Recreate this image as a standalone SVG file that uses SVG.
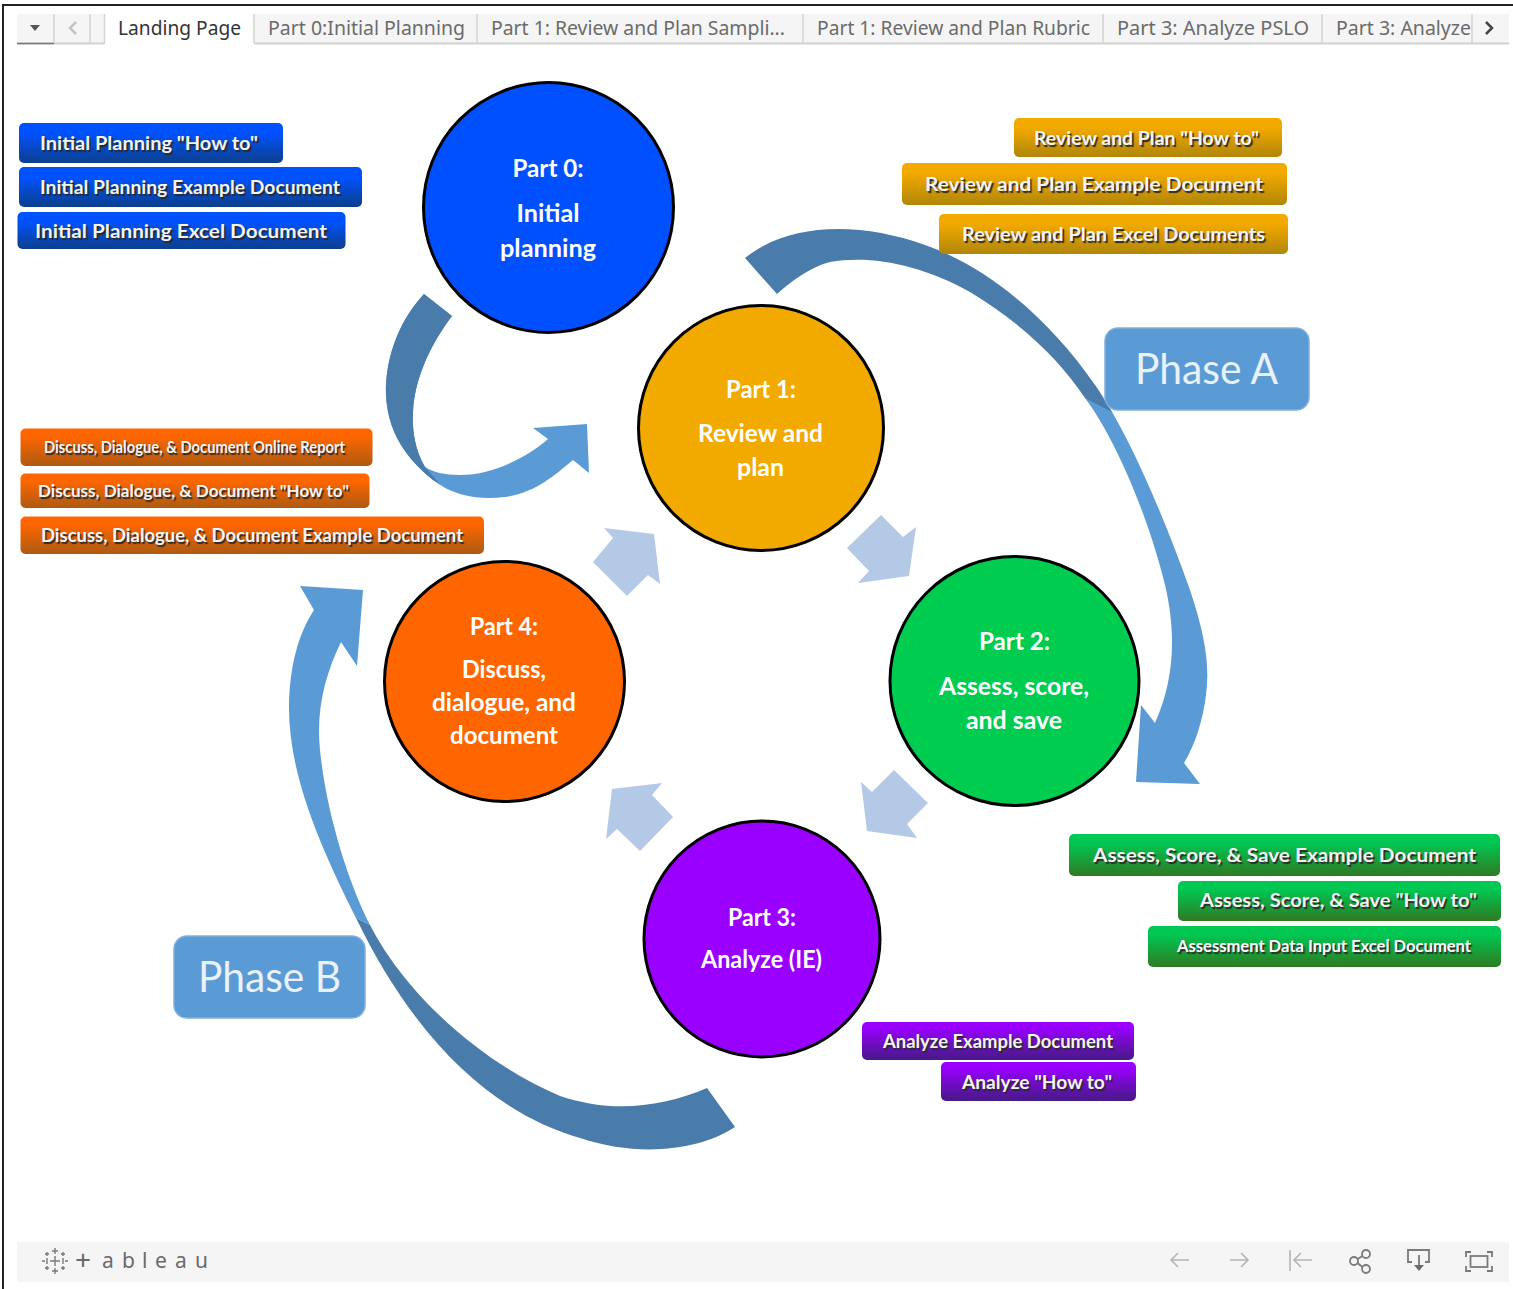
<svg xmlns="http://www.w3.org/2000/svg" width="1513" height="1289" viewBox="0 0 1513 1289">
<defs>
<style>
.tab{font-family:"Noto Sans","Liberation Sans",sans-serif;font-size:20px;fill:#6b6b6b}
.sep{stroke:#d4d4d4;stroke-width:1.5}
.btn{font-family:Lato,"Liberation Sans",sans-serif;font-weight:700;font-size:19px;fill:#f4f4f4;text-shadow:1.5px 1.5px 1px #2a2a2a}
.circ{stroke:#000;stroke-width:3}
.ct{font-family:Lato,"Liberation Sans",sans-serif;font-weight:700;font-size:24.5px;fill:#fff;text-anchor:middle}
.phase{fill:#5b9bd5;stroke:#7fb0dd;stroke-width:1.5}
.pt{font-family:Lato,"Liberation Sans",sans-serif;font-size:42px;fill:#eaf1f8;text-anchor:middle}
.light{fill:#5b9bd5}
.dark{fill:#4a7cab}
.small{fill:#b4c9e6}
.ico{fill:none;stroke:#b5b5b5;stroke-width:1.6}
.ico2{fill:none;stroke:#7a7a7a;stroke-width:1.8}
</style>
<linearGradient id="gBlue" x1="0" y1="0" x2="0" y2="1"><stop offset="0.25" stop-color="#0052ff"/><stop offset="1" stop-color="#0c3f8c"/></linearGradient>
<linearGradient id="gOrange" x1="0" y1="0" x2="0" y2="1"><stop offset="0.2" stop-color="#ff6600"/><stop offset="1" stop-color="#ad5a12"/></linearGradient>
<linearGradient id="gYellow" x1="0" y1="0" x2="0" y2="1"><stop offset="0.25" stop-color="#f2a900"/><stop offset="1" stop-color="#b08608"/></linearGradient>
<linearGradient id="gGreen" x1="0" y1="0" x2="0" y2="1"><stop offset="0.2" stop-color="#00c853"/><stop offset="1" stop-color="#2f7a22"/></linearGradient>
<linearGradient id="gPurple" x1="0" y1="0" x2="0" y2="1"><stop offset="0.15" stop-color="#9900ff"/><stop offset="1" stop-color="#451a85"/></linearGradient>
</defs>
<rect width="1513" height="1289" fill="#fff"/>
<g id="frame"><path d="M3,1289V5H1513" fill="none" stroke="#222" stroke-width="2"/></g>

<g id="tabstrip">
<rect x="17" y="14" width="1492" height="29" fill="#f5f5f5"/>
<rect x="105" y="14" width="149" height="31" fill="#fff"/>
<path d="M17,43.500H105M254,43.500H1509" stroke="#d2d2d2" stroke-width="2" fill="none"/>
<path d="M54,14V43M90,14V43M104.500,14V43M254,14V43M477,14V43M803,14V43M1103,14V43M1322,14V43M1472,14V43" class="sep"/>
<path d="M17,43.500H54" stroke="#777" stroke-width="1.500"/>
<path d="M30,25H40L35,31Z" fill="#555"/>
<path d="M76,22L70,28L76,34" fill="none" stroke="#c4c4c4" stroke-width="2.500"/>
<path d="M1486,22L1492,28L1486,34" fill="none" stroke="#444" stroke-width="2.500"/>
<text class="tab" x="118" y="35" textLength="123" lengthAdjust="spacingAndGlyphs" style="fill:#333">Landing Page</text>
<text class="tab" x="268" y="35" textLength="197" lengthAdjust="spacingAndGlyphs">Part 0:Initial Planning</text>
<text class="tab" x="491" y="35" textLength="294" lengthAdjust="spacingAndGlyphs">Part 1: Review and Plan Sampli...</text>
<text class="tab" x="817" y="35" textLength="273" lengthAdjust="spacingAndGlyphs">Part 1: Review and Plan Rubric</text>
<text class="tab" x="1117" y="35" textLength="192" lengthAdjust="spacingAndGlyphs">Part 3: Analyze PSLO</text>
<text class="tab" x="1336" y="35" textLength="135" lengthAdjust="spacingAndGlyphs">Part 3: Analyze</text>
</g>

<g id="connectors">
<path class="light" d="M1095,385C1130,435 1165,520 1190,590C1205,635 1210,665 1206,695C1203,720 1195,745 1184,763L1200,784L1136,782L1141,705L1155,723C1172,685 1178,640 1165,585C1152,530 1120,445 1085,398Z"/>
<path class="dark" d="M745,258C790,222 860,222 925,245C990,268 1050,320 1095,385L1112,412L1085,398C1060,360 1020,322 970,292C920,264 870,255 830,262C810,267 790,282 777,294Z"/>
<path class="light" d="M356,918C322,850 288,775 289,705C290,665 298,635 314,610L300,586L363,590L357,666L341,642C325,675 316,710 320,750C326,810 347,880 370,925Z"/>
<path class="dark" d="M735,1127C700,1150 640,1158 580,1138C500,1115 420,1050 356,918L370,925C398,980 465,1055 560,1096C610,1113 660,1108 707,1088Z"/>
<path class="light" d="M424,294C395,325 385,365 386,395C388,440 415,465 433,480C455,497 480,500 505,497C535,493 555,475 573,460L589,473L587,424L533,428L548,439C530,455 495,475 460,475C445,475 432,472 425,467C415,450 412,430 413,413C414,380 430,345 452,316Z"/>
<path class="dark" d="M424,294C395,325 385,365 386,395C388,440 415,465 433,480L440,484L425,467C415,450 412,430 413,413C414,380 430,345 452,316Z"/>
<path class="small" d="M881,515L903,537L916,527L909,576L858,583L869,571L847,548Z"/>
<path class="small" d="M894,770L928,803L907,824L917,838L867,831L861,782L872,792Z"/>
<path class="small" d="M662,783L612,789L606,839L617,829L640,851L673,817L652,795Z"/>
<path class="small" d="M654,534L604,528L613,538L593,562L627,596L648,575L660,584Z"/>
</g>

<g id="part0"><circle class="circ" cx="548.500" cy="207.500" r="125" fill="#0050ff"/>
<text class="ct" x="548" y="177" textLength="71" lengthAdjust="spacingAndGlyphs">Part 0:</text><text class="ct" x="548" y="222" textLength="63" lengthAdjust="spacingAndGlyphs">Initial</text><text class="ct" x="548" y="257" textLength="96" lengthAdjust="spacingAndGlyphs">planning</text></g>
<g id="part1"><circle class="circ" cx="761" cy="428" r="122.500" fill="#f2a900"/>
<text class="ct" x="761" y="398" textLength="70" lengthAdjust="spacingAndGlyphs">Part 1:</text><text class="ct" x="760.500" y="442" textLength="125" lengthAdjust="spacingAndGlyphs">Review and</text><text class="ct" x="760.500" y="476" textLength="47" lengthAdjust="spacingAndGlyphs">plan</text></g>
<g id="part2"><circle class="circ" cx="1014.500" cy="681" r="124.500" fill="#00cc50"/>
<text class="ct" x="1014.500" y="650" textLength="71" lengthAdjust="spacingAndGlyphs">Part 2:</text><text class="ct" x="1014" y="695" textLength="150" lengthAdjust="spacingAndGlyphs">Assess, score,</text><text class="ct" x="1014" y="729" textLength="96" lengthAdjust="spacingAndGlyphs">and save</text></g>
<g id="part3"><circle class="circ" cx="762" cy="939" r="118" fill="#9900ff"/>
<text class="ct" x="762" y="926" textLength="68" lengthAdjust="spacingAndGlyphs">Part 3:</text><text class="ct" x="761.500" y="968" textLength="121" lengthAdjust="spacingAndGlyphs">Analyze (IE)</text></g>
<g id="part4"><circle class="circ" cx="504.500" cy="681.500" r="120" fill="#ff6600"/>
<text class="ct" x="504" y="635" textLength="68" lengthAdjust="spacingAndGlyphs">Part 4:</text><text class="ct" x="504" y="678" textLength="84" lengthAdjust="spacingAndGlyphs">Discuss,</text><text class="ct" x="504" y="711" textLength="144" lengthAdjust="spacingAndGlyphs">dialogue, and</text><text class="ct" x="504" y="744" textLength="108" lengthAdjust="spacingAndGlyphs">document</text></g>

<g id="phaseA"><rect class="phase" x="1105" y="328" width="204" height="82" rx="13"/><text class="pt" x="1206.500" y="384" textLength="143" lengthAdjust="spacingAndGlyphs">Phase A</text></g>
<g id="phaseB"><rect class="phase" x="174" y="936" width="191" height="82" rx="13"/><text class="pt" x="269.500" y="992" textLength="143" lengthAdjust="spacingAndGlyphs">Phase B</text></g>

<g id="btn-blue-1"><rect x="19" y="123" width="264" height="40" rx="5" fill="url(#gBlue)"/><text class="btn" x="40" y="150" textLength="218" lengthAdjust="spacingAndGlyphs">Initial Planning "How to"</text></g>
<g id="btn-blue-2"><rect x="19" y="167" width="343" height="40" rx="5" fill="url(#gBlue)"/><text class="btn" x="40" y="194" textLength="300" lengthAdjust="spacingAndGlyphs">Initial Planning Example Document</text></g>
<g id="btn-blue-3"><rect x="17.500" y="212" width="328" height="37" rx="5" fill="url(#gBlue)"/><text class="btn" x="35" y="238" textLength="292" lengthAdjust="spacingAndGlyphs">Initial Planning Excel Document</text></g>

<g id="btn-orange-1"><rect x="20.500" y="428.500" width="352" height="37.500" rx="5" fill="url(#gOrange)"/><text class="btn" x="44" y="453" textLength="301" lengthAdjust="spacingAndGlyphs" style="font-size:17px">Discuss, Dialogue, &amp; Document Online Report</text></g>
<g id="btn-orange-2"><rect x="20.500" y="473.500" width="349" height="34.500" rx="5" fill="url(#gOrange)"/><text class="btn" x="38" y="497" textLength="311" lengthAdjust="spacingAndGlyphs" style="font-size:17px">Discuss, Dialogue, &amp; Document "How to"</text></g>
<g id="btn-orange-3"><rect x="20.500" y="516.500" width="463.500" height="37.500" rx="5" fill="url(#gOrange)"/><text class="btn" x="41" y="542" textLength="422" lengthAdjust="spacingAndGlyphs">Discuss, Dialogue, &amp; Document Example Document</text></g>

<g id="btn-yellow-1"><rect x="1014" y="118" width="268" height="39" rx="5" fill="url(#gYellow)"/><text class="btn" x="1034" y="145" textLength="225" lengthAdjust="spacingAndGlyphs">Review and Plan "How to"</text></g>
<g id="btn-yellow-2"><rect x="902" y="163" width="385" height="42" rx="5" fill="url(#gYellow)"/><text class="btn" x="925" y="191" textLength="338" lengthAdjust="spacingAndGlyphs">Review and Plan Example Document</text></g>
<g id="btn-yellow-3"><rect x="939" y="214" width="349" height="40" rx="5" fill="url(#gYellow)"/><text class="btn" x="962" y="241" textLength="303" lengthAdjust="spacingAndGlyphs">Review and Plan Excel Documents</text></g>

<g id="btn-green-1"><rect x="1069" y="834" width="431" height="42" rx="5" fill="url(#gGreen)"/><text class="btn" x="1093" y="862" textLength="383" lengthAdjust="spacingAndGlyphs">Assess, Score, &amp; Save Example Document</text></g>
<g id="btn-green-2"><rect x="1178" y="881" width="323" height="40" rx="5" fill="url(#gGreen)"/><text class="btn" x="1200" y="907" textLength="277" lengthAdjust="spacingAndGlyphs">Assess, Score, &amp; Save "How to"</text></g>
<g id="btn-green-3"><rect x="1148" y="926" width="353" height="41" rx="5" fill="url(#gGreen)"/><text class="btn" x="1177" y="952" textLength="294" lengthAdjust="spacingAndGlyphs" style="font-size:17px;fill:#fff">Assessment Data Input Excel Document</text></g>

<g id="btn-purple-1"><rect x="862" y="1022" width="272" height="38" rx="5" fill="url(#gPurple)"/><text class="btn" x="883" y="1048" textLength="230" lengthAdjust="spacingAndGlyphs">Analyze Example Document</text></g>
<g id="btn-purple-2"><rect x="941" y="1062" width="195" height="39" rx="5" fill="url(#gPurple)"/><text class="btn" x="962" y="1089" textLength="150" lengthAdjust="spacingAndGlyphs">Analyze "How to"</text></g>

<g id="toolbar">
<rect x="17" y="1242" width="1492" height="40" fill="#f5f5f5"/>
<path d="M55,1248V1254M52,1251H58M55,1268V1274M52,1271H58M45,1261H42M47,1258V1264M65,1261H68M63,1258V1264M55,1256V1266M50,1261H60M47,1252V1256M45,1254H49M63,1252V1256M61,1254H65M47,1266V1270M45,1268H49M63,1266V1270M61,1268H65" class="ico2" style="stroke-width:1.400"/>
<text y="1268" style="font-family:'Noto Sans','Liberation Sans',sans-serif;font-size:21px;fill:#6a6a6a"><tspan x="75" y="1270" style="font-size:28px">+</tspan><tspan x="102 122 142 155 175 195" y="1268">ableau</tspan></text>
<path d="M1189,1260H1171M1178,1253L1171,1260L1178,1267" class="ico"/>
<path d="M1230,1260H1248M1241,1253L1248,1260L1241,1267" class="ico"/>
<path d="M1290,1250V1271M1312,1260H1294M1301,1253L1294,1260L1301,1267" class="ico"/>
<g class="ico2"><circle cx="1354" cy="1261" r="4"/><circle cx="1366" cy="1254" r="4"/><circle cx="1366" cy="1269" r="4"/><path d="M1357.500,1259L1362.500,1256M1357.500,1263L1362.500,1267"/></g>
<path d="M1412,1262H1408V1250H1429V1262H1425M1419,1255V1267" class="ico2"/>
<path d="M1414,1265H1424L1419,1271Z" fill="#6a6a6a"/>
<path d="M1466,1257V1252H1471M1487,1252H1492V1257M1492,1266V1271H1487M1471,1271H1466V1266" class="ico2"/>
<rect x="1470.500" y="1256" width="17" height="11" class="ico2"/>
</g>
</svg>
